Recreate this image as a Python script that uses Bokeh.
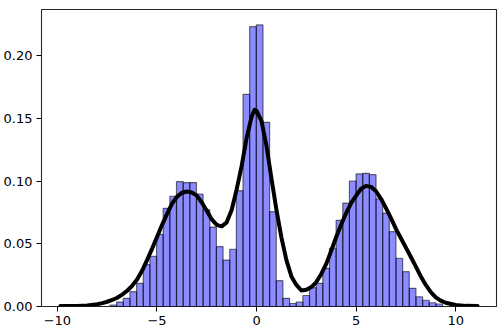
from bokeh.plotting import figure
from bokeh.models import Range1d, FixedTicker
from bokeh.embed import file_html
from bokeh.resources import INLINE

# Histogram (density)
bin_start = -7.36
bin_width = 0.334
density = [0.0012, 0.0035, 0.0065, 0.0118, 0.0185, 0.0335, 0.0400, 0.0575, 0.0784, 0.0880,
           0.0997, 0.0989, 0.0989, 0.0898, 0.0773, 0.0634, 0.0478, 0.0371, 0.0457, 0.0925,
           0.1694, 0.2234, 0.2248, 0.1470, 0.0757, 0.0206, 0.0065, 0.0024, 0.0036, 0.0088,
           0.0150, 0.0185, 0.0305, 0.0465, 0.0688, 0.0826, 0.1002, 0.1058, 0.1063, 0.1052,
           0.0860, 0.0746, 0.0597, 0.0385, 0.0278, 0.0145, 0.0078, 0.0050, 0.0030, 0.0020]

# Smooth density curve
curve_x = [-9.85, -9.0, -8.5, -8.0, -7.75, -7.5, -7.25, -7.0, -6.75, -6.5, -6.25, -6.0, -5.75,
           -5.5, -5.25, -5.0, -4.75, -4.5, -4.25, -4.0, -3.75, -3.5, -3.25, -3.0, -2.75, -2.5,
           -2.25, -2.0, -1.75, -1.5, -1.25, -1.0, -0.75, -0.5, -0.25, -0.1, 0.0, 0.25, 0.5,
           0.75, 1.0, 1.25, 1.5, 1.75, 2.0, 2.25, 2.5, 2.75, 3.0, 3.25, 3.5, 3.75, 4.0, 4.25,
           4.5, 4.75, 5.0, 5.25, 5.5, 5.75, 6.0, 6.25, 6.5, 6.75, 7.0, 7.25, 7.5, 7.75, 8.0,
           8.25, 8.5, 8.75, 9.0, 9.25, 9.5, 10.0, 10.5, 11.1]
curve_y = [0.0003, 0.0004, 0.0008, 0.0018, 0.0027, 0.0038, 0.0052, 0.0070, 0.0095, 0.0126,
           0.0165, 0.0215, 0.0285, 0.0370, 0.0460, 0.0555, 0.0650, 0.0738, 0.0820, 0.0875,
           0.0908, 0.0918, 0.0910, 0.0885, 0.0830, 0.0765, 0.0695, 0.0652, 0.0640, 0.0672,
           0.0770, 0.0935, 0.1120, 0.1345, 0.1515, 0.1570, 0.1562, 0.1480, 0.1280, 0.1020,
           0.0770, 0.0550, 0.0370, 0.0240, 0.0172, 0.0128, 0.0133, 0.0155, 0.0195, 0.0260,
           0.0340, 0.0445, 0.0555, 0.0655, 0.0745, 0.0825, 0.0885, 0.0940, 0.0963, 0.0955,
           0.0920, 0.0860, 0.0785, 0.0705, 0.0620, 0.0545, 0.0470, 0.0395, 0.0318, 0.0240,
           0.0172, 0.0115, 0.0073, 0.0047, 0.0030, 0.0012, 0.0005, 0.0003]

x_ticks = [-10, -5, 0, 5, 10]
x_tick_labels = ["\u221210", "\u22125", "0", "5", "10"]
y_ticks = [0.0, 0.05, 0.10, 0.15, 0.20]
y_tick_labels = ["0.00", "0.05", "0.10", "0.15", "0.20"]

lefts = [bin_start + i * bin_width for i in range(len(density))]
rights = [l + bin_width for l in lefts]

p = figure(width=501, height=334, output_backend="svg", toolbar_location=None,
           x_range=Range1d(-10.8, 12.05), y_range=Range1d(0, 0.2371),
           min_border_left=39, min_border_right=5, min_border_top=9, min_border_bottom=28)

p.quad(left=lefts, right=rights, bottom=0, top=density,
       fill_color="blue", fill_alpha=0.45, line_color="black", line_alpha=0.55, line_width=1.2)
p.line(curve_x, curve_y, line_color="black", line_width=4, line_join="round", line_cap="round")

p.grid.visible = False
p.background_fill_color = "white"
p.border_fill_color = "white"
p.outline_line_color = "black"
p.outline_line_width = 1.1
p.outline_line_alpha = 0.85

for ax in (p.xaxis[0], p.yaxis[0]):
    ax.axis_line_color = None
    ax.major_tick_out = 5
    ax.major_tick_in = 0
    ax.minor_tick_line_color = None
    ax.major_tick_line_color = "black"
    ax.major_label_text_font = "DejaVu Sans"
    ax.major_label_text_font_size = "13px"
    ax.major_label_text_color = "black"
    ax.major_label_standoff = 4

p.xaxis[0].ticker = FixedTicker(ticks=x_ticks)
p.xaxis[0].major_label_overrides = {t: s for t, s in zip(x_ticks, x_tick_labels)}
p.yaxis[0].ticker = FixedTicker(ticks=y_ticks)
p.yaxis[0].major_label_overrides = {t: s for t, s in zip(y_ticks, y_tick_labels)}

open("out.html", "w").write(file_html(p, INLINE))
